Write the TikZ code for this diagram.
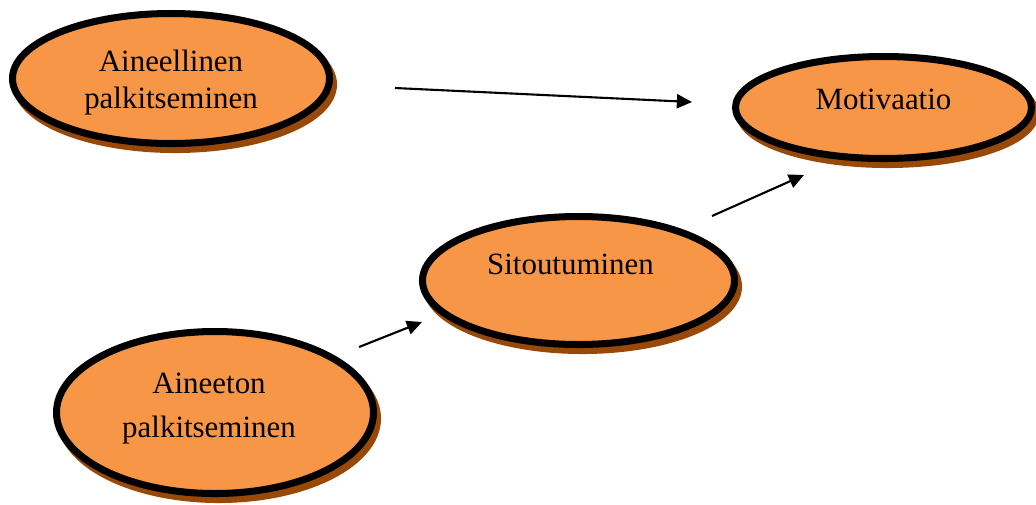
\documentclass[tikz,border=0pt]{standalone}
\usepackage{fontspec}
\setmainfont{Liberation Serif}
\usetikzlibrary{arrows.meta,shapes.geometric,shadows}
\definecolor{ovalOrange}{HTML}{F79646}
\definecolor{ovalShadow}{HTML}{984807}

\begin{document}
\begin{tikzpicture}
[ovalDecorate/.style={shape=ellipse,inner sep=0pt,draw,line width=2pt,fill=ovalOrange,
   general shadow={shadow xshift=0.04cm,shadow yshift=-0.06cm,draw=ovalShadow,fill=ovalShadow,line width=2pt}},%
  textDecorate/.style={align=center,inner sep=0pt,font=\fontsize{8.8}{10.5}\selectfont},%
  lineDecorate/.style={-{Triangle[length=4.3pt,width=4pt]},line width=0.6pt},scale=1]
\useasboundingbox (0,0) rectangle (10.36,-5.04);
%% ovals
\foreach \nodename/\x/\y/\w/\h in {
  ain/1.71/-0.785/3.17/1.30, mot/8.835/-1.075/2.96/1.02,
  sit/5.785/-2.805/3.12/1.28, aton/2.15/-4.125/3.17/1.62}
{
  \node (\nodename) at (\x,\y) [ovalDecorate,minimum width=\w cm,minimum height=\h cm] {};
}
%% texts
\node (ain-t) at ([yshift=-0.04cm]ain.center) [textDecorate] {Aineellinen\\palkitseminen};
\node (mot-t) at ([yshift=0.08cm]mot.center) [textDecorate] {Motivaatio};
\node (sit-t) at ([xshift=-0.08cm,yshift=0.165cm]sit.center) [textDecorate] {Sitoutuminen};
\node (aton-t) at ([xshift=-0.06cm,yshift=0.04cm]aton.center) [textDecorate,font=\fontsize{8.8}{12.5}\selectfont] {Aineeton\\palkitseminen};
%% arrow ends
\foreach \nodename/\x/\y in {
  a1s/3.95/-0.88, a1e/6.92/-1.02, a2s/7.12/-2.16, a2e/8.04/-1.75, a3s/3.59/-3.47, a3e/4.22/-3.22}
{
  \coordinate (\nodename) at (\x,\y);
}
%% arrows
\path
\foreach \startnode/\endnode in {a1s/a1e, a2s/a2e, a3s/a3e}
{
  (\startnode) edge[lineDecorate] (\endnode)
};
\end{tikzpicture}
\end{document}
